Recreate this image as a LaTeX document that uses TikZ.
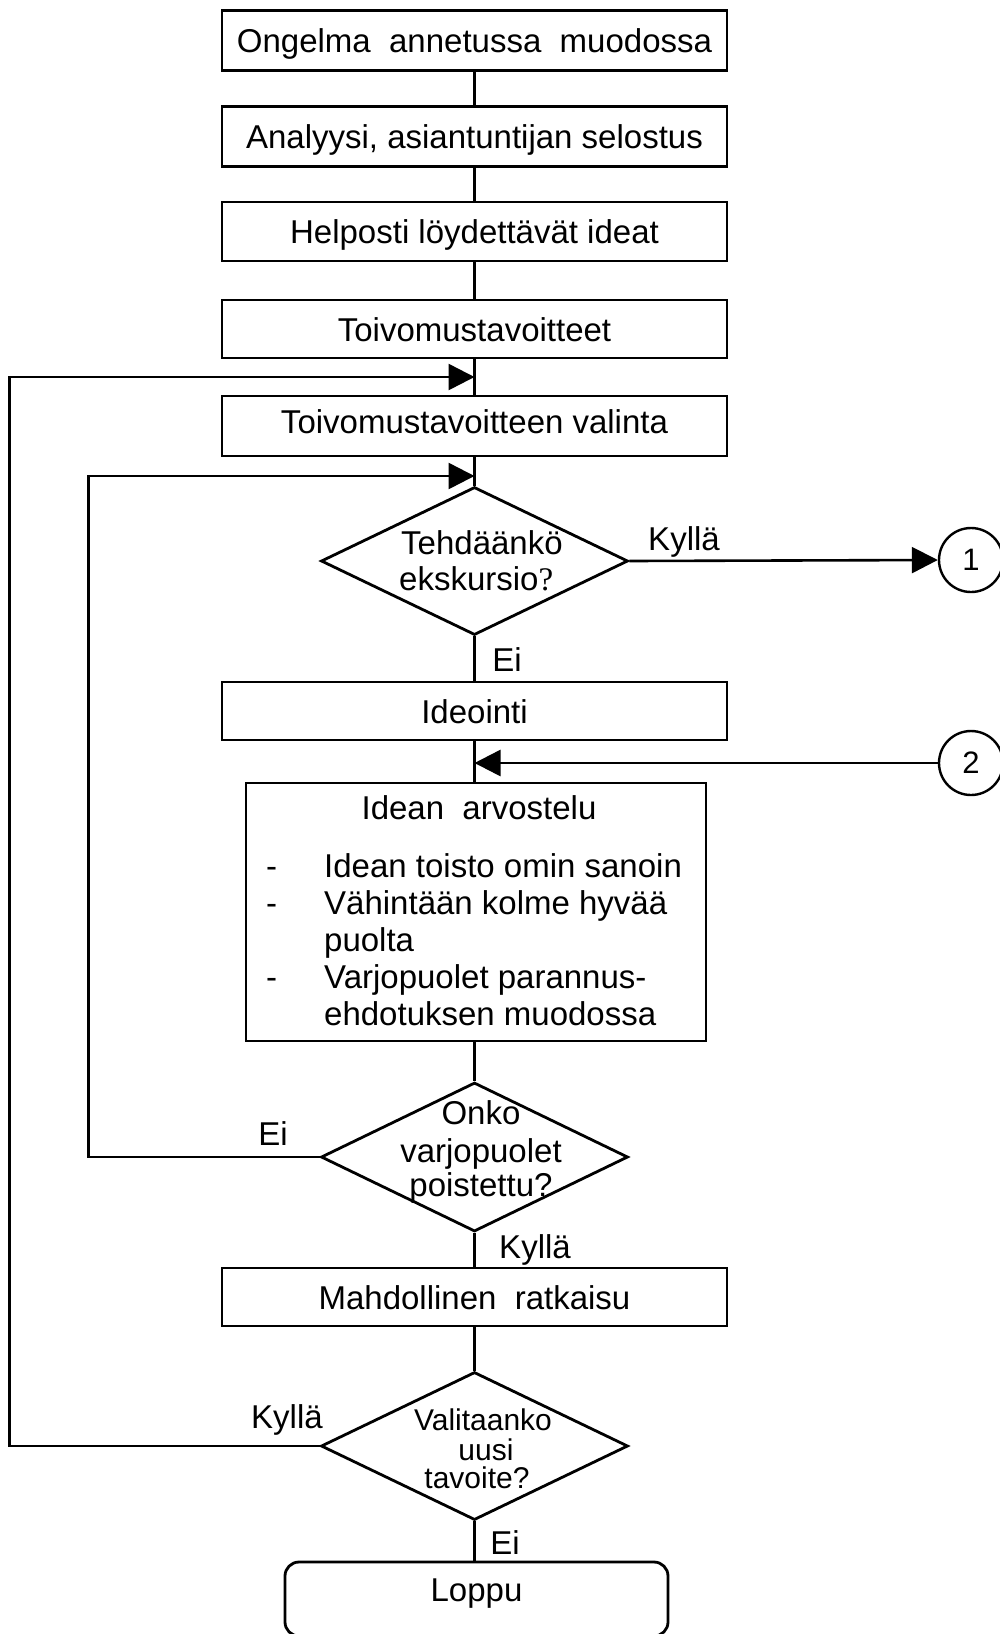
\documentclass[tikz,border=0pt]{standalone}
\usepackage{fontspec}
\setmainfont{Liberation Sans}
\newfontfamily\serifq{Liberation Serif}
\usetikzlibrary{arrows.meta,shapes.geometric}
\begin{document}
\begin{tikzpicture}[x=1pt,y=-1pt,
  every node/.style={font=\fontsize{33}{37}\selectfont},
  proc/.style={draw,line width=2.8pt,minimum width=505pt,minimum height=60pt,inner sep=0pt,text height=24pt,text depth=0pt},
  decision/.style={draw,diamond,line width=2.8pt,minimum width=307pt,minimum height=148pt,inner sep=0pt},
  conn/.style={draw,circle,line width=2.4pt,minimum size=64pt,inner sep=0pt,font=\fontsize{31}{34}\selectfont},
  link/.style={line width=2.6pt},
  arr/.style={link,-{Triangle[length=26pt,width=26pt]}},
  txt/.style={inner sep=0pt,anchor=base},
  ltxt/.style={inner sep=0pt,anchor=base west},
  lbl/.style={inner sep=0pt,text height=24pt,text depth=7pt},
  small/.style={font=\fontsize{30}{30}\selectfont}
]
\useasboundingbox (0,0) rectangle (1000,1634);

% main boxes
\node[proc] (b1) at (474.5,40.5) {Ongelma~~annetussa~~muodossa};
\node[proc] (b2) at (474.5,136.5) {Analyysi, asiantuntijan selostus};
\node[proc,minimum height=59pt] (b3) at (474.5,231.5) {Helposti löydettävät ideat};
\node[proc,minimum height=58pt] (b4) at (474.5,329) {Toivomustavoitteet};
\node[proc] (b5) at (474.5,426) {\raisebox{5pt}{Toivomustavoitteen valinta}};
\node[decision] (d1) at (474.5,561) {};
\node[proc,minimum height=58pt] (b6) at (474.5,711) {Ideointi};
\node[draw,line width=2.8pt,minimum width=460pt,minimum height=258pt,inner sep=0pt] (b7) at (476,912) {};
\node[decision,minimum height=149pt] (d2) at (474.5,1157) {};
\node[proc,minimum height=58pt] (b8) at (474.5,1297) {Mahdollinen~~ratkaisu};
\node[decision] (d3) at (474.5,1446) {};
\node[draw,line width=2.8pt,rounded corners=14pt,minimum width=383pt,minimum height=74pt,inner sep=0pt,text height=24pt,text depth=7pt] (end) at (476.5,1599) {\raisebox{6pt}{Loppu}};

% connectors circles
\node[conn] (c1) at (971,560) {1};
\node[conn] (c2) at (971,763) {2};

% junctions on main line
\coordinate (j1) at (474.5,377);
\coordinate (j0) at (474.5,476);
\coordinate (j2) at (474.5,763);

% texts inside arvostelu box
\node[txt] (tt) at (479,819) {Idean~~arvostelu};
\node[ltxt] (m1) at (266,877) {-};
\node[ltxt] (m2) at (266,914) {-};
\node[ltxt] (m3) at (266,988) {-};
\node[ltxt] (l1) at (324,877) {Idean toisto omin sanoin};
\node[ltxt] (l2) at (324,914) {Vähintään kolme hyvää};
\node[ltxt] (l3) at (324,951) {puolta};
\node[ltxt] (l4) at (324,988) {Varjopuolet parannus-};
\node[ltxt] (l5) at (324,1025) {ehdotuksen muodossa};

% diamond texts
\node[ltxt] (d1a) at (401,554) {Tehdäänkö};
\node[ltxt] (d1b) at (399,590) {ekskursio{\serifq ?}};
\node[txt] (d2a) at (481,1124) {Onko};
\node[txt] (d2b) at (481,1162) {varjopuolet};
\node[txt] (d2c) at (481,1196) {poistettu?};
\node[txt,small] (d3a) at (483,1430) {Valitaanko};
\node[txt,small] (d3b) at (486,1460) {uusi};
\node[txt,small] (d3c) at (477,1488) {tavoite?};

% labels
\node[lbl] (k1) at (684,542) {Kyllä};
\node[lbl] (e1) at (507,663) {Ei};
\node[lbl] (e2) at (273,1137) {Ei};
\node[lbl] (k2) at (535,1250) {Kyllä};
\node[lbl] (k3) at (287,1420) {Kyllä};
\node[lbl] (e3) at (505,1546) {Ei};

% main flow
\draw[link] (b1.south) -- (b2.north);
\draw[link] (b2.south) -- (b3.north);
\draw[link] (b3.south) -- (b4.north);
\draw[link] (b4.south) -- (b5.north);
\draw[link] (b5.south) -- (d1.north);
\draw[link] (d1.south) -- (b6.north);
\draw[link] (b6.south) -- (b6.south |- b7.north);
\draw[link] (b7.south -| d2.north) -- (d2.north);
\draw[link] (d2.south) -- (b8.north);
\draw[link] (b8.south) -- (d3.north);
\draw[link] (d3.south) -- (d3.south |- end.north);

% side branches
\draw[arr] (d1.east) -- (c1.west);
\draw[arr] (c2.west) -- (j2);
\draw[arr] (d2.west) -- ++(-231,0) |- (j0);
\draw[arr] (d3.west) -- ++(-310,0) |- (j1);
\end{tikzpicture}
\end{document}
